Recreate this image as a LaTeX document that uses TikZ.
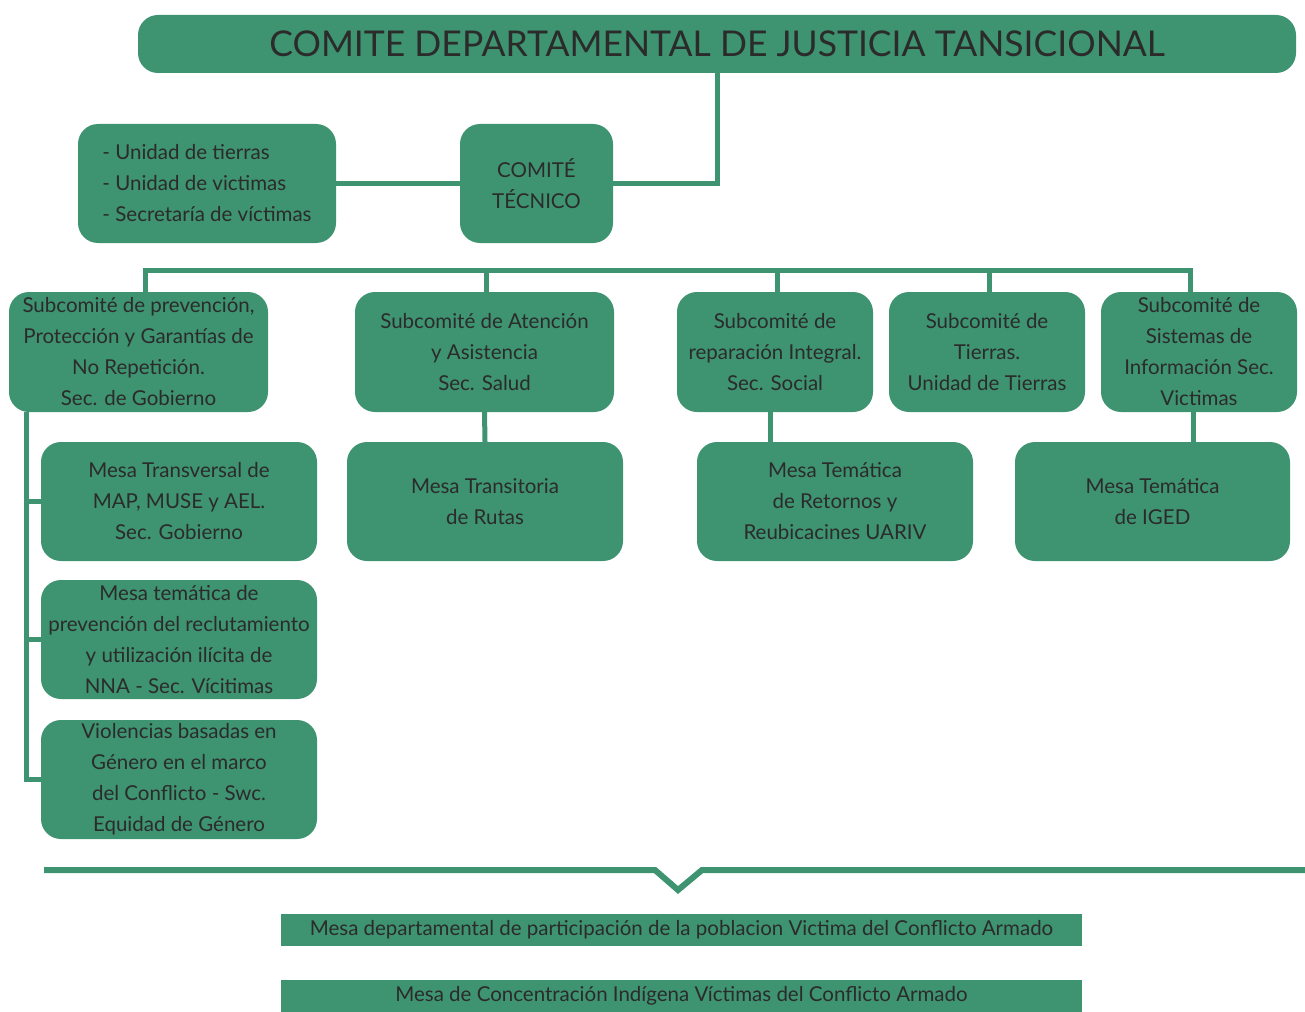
\documentclass[tikz,border=0pt]{standalone}
\usepackage{fontspec}
\setmainfont{Lato}
\usepackage{tikz}
\usetikzlibrary{positioning}
\definecolor{VerdeComite}{HTML}{3E9371}
\definecolor{TextoOscuro}{HTML}{2B2B2B}

\tikzset{
  caja/.style={fill=VerdeComite, rounded corners=20pt, inner sep=0pt, align=center,
    text=TextoOscuro, font=\fontsize{20.5}{31}\selectfont},
  franja/.style={fill=VerdeComite, inner sep=0pt, text=TextoOscuro,
    font=\fontsize{20.5}{24}\selectfont, minimum width=801, minimum height=32},
  enlace/.style={draw=VerdeComite, line width=5pt},
}

\begin{document}
\begin{tikzpicture}[x=1pt, y=-1pt]
  \useasboundingbox (0,0) rectangle (1305,1011);

  % Cabecera
  \node[caja, minimum width=1158, minimum height=58, font=\fontsize{35.5}{40}\selectfont] (titulo) at (717,44) {COMITE DEPARTAMENTAL DE JUSTICIA TANSICIONAL};

  % Comite tecnico
  \node[caja, minimum width=153, minimum height=119] (tecnico) at (536.5,183.5) {COMITÉ\\TÉCNICO};
  \node[caja, minimum width=258, minimum height=119, align=left] (unidades) at (207,183.5) {- Unidad de tierras\\- Unidad de victimas\\- Secretaría de víctimas};

  % Subcomites
  \node[caja, minimum width=259, minimum height=120] (prevencion) at (138.5,352) {Subcomité de prevención,\\Protección y Garantías de\\No Repetición.\\Sec. de Gobierno};
  \node[caja, minimum width=259, minimum height=120] (atencion) at (484.5,352) {Subcomité de Atención\\y Asistencia\\Sec. Salud};
  \node[caja, minimum width=196, minimum height=120] (reparacion) at (775,352) {Subcomité de\\reparación Integral.\\Sec. Social};
  \node[caja, minimum width=196, minimum height=120] (tierras) at (987,352) {Subcomité de\\Tierras.\\Unidad de Tierras};
  \node[caja, minimum width=196, minimum height=120] (sistemas) at (1199,352) {Subcomité de\\Sistemas de\\Información Sec.\\Victimas};

  % Mesas
  \node[caja, minimum width=276, minimum height=119] (transversal) at (179,501.5) {Mesa Transversal de\\MAP, MUSE y AEL.\\Sec. Gobierno};
  \node[caja, minimum width=276, minimum height=119] (rutas) at (485,501.5) {Mesa Transitoria\\de Rutas};
  \node[caja, minimum width=276, minimum height=119] (retornos) at (835,501.5) {Mesa Temática\\de Retornos y\\Reubicacines UARIV};
  \node[caja, minimum width=275, minimum height=119] (iged) at (1152.5,501.5) {Mesa Temática\\de IGED};
  \node[caja, minimum width=276, minimum height=119] (reclutamiento) at (179,639.5) {Mesa temática de\\prevención del reclutamiento\\y utilización ilícita de\\NNA - Sec. Vícitimas};
  \node[caja, minimum width=276, minimum height=119] (genero) at (179,779.5) {Violencias basadas en\\Género en el marco\\del Conflicto - Swc.\\Equidad de Género};

  % Mesas de participacion
  \node[franja] (participacion) at (681.5,930) {Mesa departamental de participación de la poblacion Victima del Conflicto Armado};
  \node[franja] (indigena) at (681.5,996) {Mesa de Concentración Indígena Víctimas del Conflicto Armado};

  % Conectores
  \coordinate (bus) at (0,270);
  \coordinate (columna) at (26,412);
  \draw[enlace] (titulo.south) |- (tecnico.east);
  \draw[enlace] (unidades.east) -- (tecnico.west);
  \draw[enlace] ([xshift=7pt]prevencion.north) -- ([xshift=7pt]prevencion.north |- bus) -- ([xshift=-9pt]sistemas.north |- bus) -- ([xshift=-9pt]sistemas.north);
  \foreach \sub in {atencion, reparacion, tierras} {
    \draw[enlace] ([xshift=2pt]\sub.north) -- ([xshift=2pt]\sub.north |- bus);
  }
  \draw[enlace] (atencion.south) -- (rutas.north);
  \draw[enlace] ([xshift=-5pt]reparacion.south) -- ([xshift=-5pt]reparacion.south |- retornos.north);
  \draw[enlace] ([xshift=-6pt]sistemas.south) -- ([xshift=-6pt]sistemas.south |- iged.north);
  \draw[enlace] (columna) |- (genero.west);
  \draw[enlace] (transversal.west) -- (transversal.west -| columna);
  \draw[enlace] (reclutamiento.west) -- (reclutamiento.west -| columna);

  % Llave inferior
  \draw[enlace, line width=6pt] (44,870) -- (655,870) -- (678,890) -- (702,870) -- (1305,870);
\end{tikzpicture}
\end{document}
